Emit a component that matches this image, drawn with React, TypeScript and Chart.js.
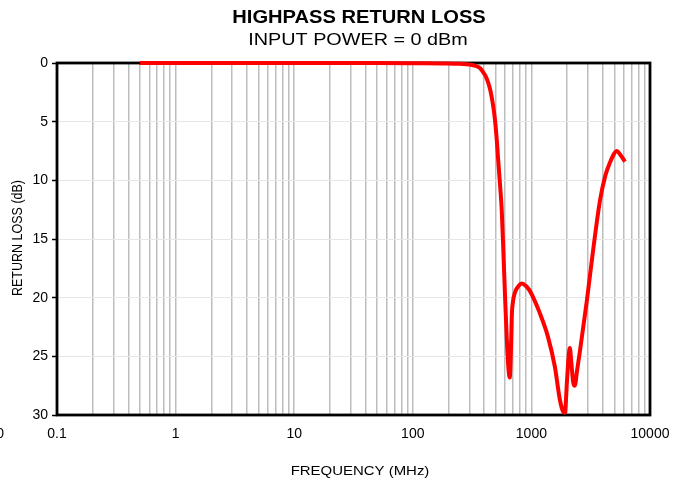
import React, { useEffect, useRef } from "react";
import { Chart, registerables } from "chart.js";

Chart.register(...registerables);

const FREQ_MHZ = [
  0.5, 1, 10, 50, 100, 200, 250, 300, 340, 370, 390, 410, 430, 450, 470, 490, 510, 525, 545, 562, 580, 600, 620, 640, 657,
  670, 683, 700, 724, 780, 830, 900, 968, 1070, 1175, 1376, 1578, 1738, 1850, 1915, 1998, 2060, 2110, 2170, 2250, 2323,
  2420, 2570, 2940, 3310, 3790, 4200, 4590, 5000, 5250, 5600, 6150,
];
const RETURN_LOSS_DB = [
  0, 0, 0, 0.01, 0.02, 0.04, 0.07, 0.12, 0.25, 0.45, 0.75, 1.1, 1.6, 2.3, 3.3, 4.6, 6.5, 8.3, 10.5, 12.5, 16, 20, 23.5, 26,
  26.8, 25, 21.6, 20.3, 19.6, 19, 18.8, 19.0, 19.4, 20.3, 21.3, 23.3, 25.9, 28.7, 29.7, 29.8, 27, 25, 24.3, 25.5, 27.2,
  27.5, 26.3, 24.5, 20.2, 16, 11.7, 9.6, 8.5, 7.7, 7.5, 7.8, 8.4,
];

const X_DECADES = [0.1, 1, 10, 100, 1000, 10000];
const X_TICK_LABELS = ["0.1", "1", "10", "100", "1000", "10000"];
const X_MULTIPLES = [1, 2, 3, 4, 5, 6, 7, 8, 9];
const Y_TICKS = [0, 5, 10, 15, 20, 25, 30];

const TITLE = "HIGHPASS RETURN LOSS";
const SUBTITLE = "INPUT POWER = 0 dBm";
const X_TITLE = "FREQUENCY (MHz)";
const Y_TITLE = "RETURN LOSS (dB)";
const FONT = "'Liberation Sans', Arial, sans-serif";

export default function App() {
  const ref = useRef<HTMLCanvasElement | null>(null);

  useEffect(() => {
    if (!ref.current) return;
    const gridValues: number[] = [];
    X_DECADES.forEach((d, i) => {
      if (i === X_DECADES.length - 1) {
        gridValues.push(d);
      } else {
        X_MULTIPLES.forEach((m) => gridValues.push(Number((d * m).toPrecision(6))));
      }
    });

    const stretchText = (ctx: any, text: string, x: number, y: number, sx: number) => {
      ctx.save();
      ctx.translate(x, y);
      ctx.scale(sx, 1);
      ctx.fillText(text, 0, 0);
      ctx.restore();
    };

    const textPlugin = {
      id: "texts",
      beforeDatasetsDraw(chart: any) {
        const { ctx, chartArea } = chart;
        ctx.save();
        ctx.strokeStyle = "#000";
        ctx.lineWidth = 2.8;
        ctx.strokeRect(chartArea.left, chartArea.top, chartArea.right - chartArea.left, chartArea.bottom - chartArea.top);
        ctx.restore();
      },
      afterDraw(chart: any) {
        const { ctx } = chart;
        ctx.save();
        ctx.fillStyle = "#000";
        ctx.textAlign = "center";
        ctx.textBaseline = "middle";
        ctx.font = `bold 17.5px ${FONT}`;
        stretchText(ctx, TITLE, 359, 18, 1.15);
        ctx.font = `16.5px ${FONT}`;
        stretchText(ctx, SUBTITLE, 358, 40, 1.2);
        ctx.font = `13px ${FONT}`;
        stretchText(ctx, X_TITLE, 360, 471, 1.15);
        ctx.textAlign = "right";
        ctx.font = `14px ${FONT}`;
        ctx.fillText("0", 4, 434);
        ctx.font = `12.5px ${FONT}`;
        ctx.translate(18, 238);
        ctx.scale(1.15, 1);
        ctx.rotate(-Math.PI / 2);
        ctx.textAlign = "center";
        ctx.fillText(Y_TITLE, 0, 0);
        ctx.restore();
      },
    };

    const chart = new Chart(ref.current, {
      type: "line",
      data: {
        datasets: [
          {
            data: FREQ_MHZ.map((f, i) => ({ x: f, y: RETURN_LOSS_DB[i] })),
            borderColor: "#ff0000",
            borderWidth: 4,
            pointRadius: 0,
            cubicInterpolationMode: "monotone",
            clip: false,
            fill: false,
          },
        ],
      },
      options: {
        animation: false,
        responsive: false,
        layout: { padding: { left: 0, right: 36, top: 63, bottom: 0 } },
        plugins: { legend: { display: false }, tooltip: { enabled: false }, title: { display: false } },
        scales: {
          x: {
            type: "logarithmic",
            min: 0.1,
            max: 10000,
            afterBuildTicks: (scale: any) => {
              scale.ticks = gridValues.map((v) => ({ value: v }));
            },
            afterFit: (scale: any) => {
              scale.height = 68;
            },
            grid: { color: "#bdbdbd", lineWidth: 1.5, drawTicks: false },
            border: { display: false },
            ticks: {
              autoSkip: false,
              maxRotation: 0,
              padding: 11,
              color: "#000",
              font: { family: FONT, size: 14 },
              callback: (value: any) => {
                const idx = X_DECADES.findIndex((d) => Math.abs(d - Number(value)) / d < 1e-6);
                return idx >= 0 ? X_TICK_LABELS[idx] : "";
              },
            },
          },
          y: {
            type: "linear",
            reverse: true,
            min: 0,
            max: 30,
            afterBuildTicks: (scale: any) => {
              scale.ticks = Y_TICKS.map((v) => ({ value: v }));
            },
            afterFit: (scale: any) => {
              scale.width = 57;
            },
            grid: { color: "#e6e6e6", lineWidth: 1, tickColor: "#000", tickLength: 5, tickWidth: 1.5 },
            border: { display: false },
            ticks: { padding: 4, color: "#000", font: { family: FONT, size: 14 } },
          },
        },
      },
      plugins: [textPlugin],
    } as any);
    return () => chart.destroy();
  }, []);

  return (
    <div style={{ position: "fixed", left: 0, top: 0, width: 686, height: 483, background: "#fff" }}>
      <canvas ref={ref} width={686} height={483} />
    </div>
  );
}
